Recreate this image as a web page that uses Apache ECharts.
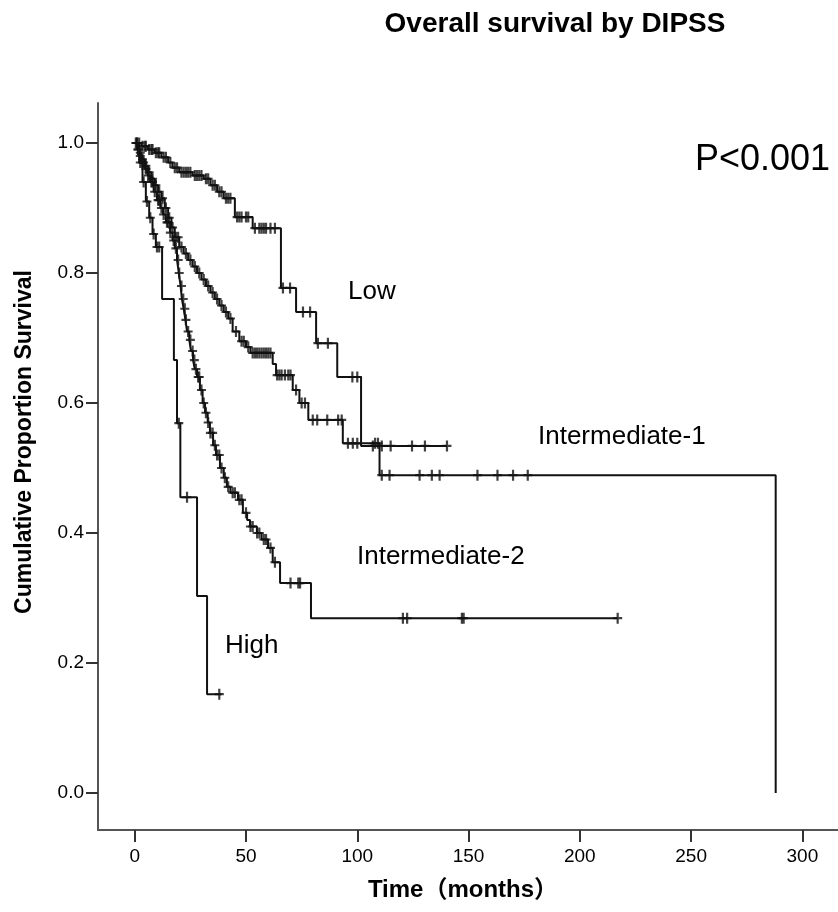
<!DOCTYPE html>
<html>
<head>
<meta charset="utf-8">
<script src="https://cdn.jsdelivr.net/npm/echarts@6/dist/echarts.min.js"></script>
<style>
html,body{margin:0;padding:0;background:#fff;}
#chart{width:838px;height:912px;}
</style>
</head>
<body>
<div id="chart"></div>
<script>
// ---- Data (months, cumulative survival) ----
var xTicks = [0, 50, 100, 150, 200, 250, 300];
var yTicks = [0.0, 0.2, 0.4, 0.6, 0.8, 1.0];

var lowTimes = [0, 3, 6, 9, 12, 15, 17, 20, 26, 31, 34, 37, 40, 45, 53, 65.7, 72.5, 81.5, 91, 101.7];
var lowSurv  = [1.0, 0.995, 0.99, 0.985, 0.978, 0.97, 0.962, 0.955, 0.95, 0.945, 0.935, 0.925, 0.915, 0.886, 0.869, 0.777, 0.74, 0.692, 0.64, 0.534];
var lowEnd = 140.3;
var lowCensor = [1, 2, 3.5, 4.5, 5, 6.5, 7.5, 8, 9.5, 10.5, 11, 13, 14, 16, 18, 19, 21, 22, 23, 24, 25, 27, 28, 29, 30, 32, 33, 35, 36, 38, 39, 41, 42, 43, 46, 47, 48, 50, 51, 54, 56, 57, 58, 59, 61, 63, 66.6, 69.8, 75.6, 78.8, 82.3, 86.8, 97.8, 100, 107, 111, 115, 124.6, 130.4, 140.3];

var int1Times = [0, 1, 2, 3, 4.6, 6, 7.5, 9, 10.5, 12, 13.5, 15, 16.5, 18, 20, 22, 24, 26, 28, 30, 32, 34, 36, 38, 40, 42, 44, 47, 50, 52, 62, 63.5, 71, 74, 78, 93.5, 110, 288];
var int1Surv  = [1.0, 0.99, 0.985, 0.975, 0.965, 0.955, 0.945, 0.935, 0.925, 0.915, 0.9, 0.885, 0.87, 0.855, 0.84, 0.83, 0.82, 0.81, 0.8, 0.79, 0.78, 0.77, 0.76, 0.75, 0.74, 0.73, 0.71, 0.695, 0.686, 0.677, 0.66, 0.643, 0.62, 0.6, 0.574, 0.538, 0.489, 0.0];
var int1End = 288;
var int1Censor = [1.5, 2.5, 3.5, 5, 6.5, 8, 9.5, 11, 12.5, 14, 15.5, 17, 18.5, 19.5, 21, 23, 25, 27, 29, 31, 33, 35, 37, 39, 41, 43, 45.5, 48, 49, 51, 53, 54, 55, 56, 57, 58, 59, 60, 61, 64, 65, 66, 67.5, 69, 70, 72.5, 75, 76.5, 80, 82, 86.5, 91.4, 93, 95.8, 98, 100, 108, 109.3, 111, 114.5, 128, 133.5, 137, 154, 163, 170, 176.6];

var int2Times = [0, 1, 2, 3, 4.6, 5.8, 6.9, 8.5, 10, 11.5, 12.7, 14, 15.9, 17, 18, 19, 19.8, 20.6, 21.2, 22, 22.8, 23.5, 24.5, 25.3, 26.2, 27, 28, 29.3, 30.5, 31.6, 32.8, 33.8, 35.2, 36.5, 38.3, 40, 41.4, 43, 46.4, 48.6, 50.5, 51.8, 54.9, 57, 59.9, 62, 65.3, 79.2];
var int2Surv  = [1.0, 0.99, 0.98, 0.97, 0.96, 0.95, 0.94, 0.925, 0.912, 0.9, 0.89, 0.878, 0.862, 0.85, 0.838, 0.82, 0.8, 0.78, 0.76, 0.745, 0.728, 0.71, 0.697, 0.68, 0.666, 0.652, 0.64, 0.62, 0.6, 0.585, 0.57, 0.554, 0.535, 0.52, 0.5, 0.485, 0.471, 0.462, 0.451, 0.431, 0.42, 0.41, 0.4, 0.39, 0.377, 0.355, 0.323, 0.269];
var int2End = 217;
var int2Censor = [0.5, 1.5, 2.5, 3.5, 4, 5, 6, 7.5, 8, 9, 10.5, 11, 12, 13, 14.5, 15, 16, 17.5, 18.5, 19.5, 20, 21, 21.8, 22.5, 23, 24, 25, 26, 26.8, 27.5, 28.5, 29, 30, 31, 32, 33, 34, 35, 36, 37, 38, 39, 40.5, 42, 44, 45, 47, 48, 50, 52, 53, 55, 56, 58, 59, 61, 63, 70, 73.5, 74.3, 120.5, 122.4, 147, 147.8, 217];

var highTimes = [0, 2, 3.5, 5, 6.5, 8, 9.5, 12.3, 17.6, 19, 20.5, 28, 32.5];
var highSurv  = [1.0, 0.97, 0.94, 0.91, 0.885, 0.86, 0.84, 0.76, 0.666, 0.569, 0.455, 0.303, 0.152];
var highEnd = 39;
var highCensor = [1, 2.5, 4, 5.5, 7, 8.5, 10, 11, 19.8, 23.5, 38];

// ---- helpers ----
function stepLine(times, surv, end) {
  var d = [];
  for (var i = 0; i < times.length; i++) d.push([times[i], surv[i]]);
  if (end > times[times.length - 1]) d.push([end, surv[surv.length - 1]]);
  return d;
}
function survAt(times, surv, t) {
  var v = surv[0];
  for (var i = 0; i < times.length; i++) { if (times[i] <= t) v = surv[i]; }
  return v;
}
function censorPts(times, surv, cens) {
  return cens.map(function (t) { return [t, survAt(times, surv, t)]; });
}

var groups = [
  {t: lowTimes, s: lowSurv, e: lowEnd, c: lowCensor},
  {t: int1Times, s: int1Surv, e: int1End, c: int1Censor},
  {t: int2Times, s: int2Surv, e: int2End, c: int2Censor},
  {t: highTimes, s: highSurv, e: highEnd, c: highCensor}
];

var plus = 'path://M3.4,0 H5.6 V4.4 H9 V6.6 H5.6 V11 H3.4 V6.6 H0 V4.4 H3.4 Z';
var series = [];
groups.forEach(function (g) {
  series.push({
    type: 'line', step: 'end', data: stepLine(g.t, g.s, g.e),
    showSymbol: false, symbol: 'none',
    lineStyle: {color: '#111', width: 2}, z: 3
  });
  series.push({
    type: 'scatter', data: censorPts(g.t, g.s, g.c),
    symbol: plus, symbolSize: [9, 11],
    itemStyle: {color: '#111'}, z: 4
  });
});

var chart = echarts.init(document.getElementById('chart'), null, {renderer: 'canvas'});
chart.setOption({
  animation: false,
  backgroundColor: '#ffffff',
  grid: {left: 98, top: 103, width: 740, height: 727, containLabel: false},
  xAxis: {
    type: 'value', min: -16.5, max: 316,
    splitLine: {show: false},
    axisLine: {show: true, onZero: false, lineStyle: {color: '#555', width: 2}},
    axisTick: {show: true, length: 12, customValues: xTicks, lineStyle: {color: '#333', width: 2}},
    axisLabel: {customValues: xTicks, margin: 17, fontFamily: 'Liberation Sans', fontSize: 19, color: '#000'}
  },
  yAxis: {
    type: 'value', min: -0.0569, max: 1.0615,
    splitLine: {show: false},
    axisLine: {show: true, onZero: false, lineStyle: {color: '#555', width: 2}},
    axisTick: {show: true, length: 12, customValues: yTicks, lineStyle: {color: '#333', width: 2}},
    axisLabel: {customValues: yTicks, margin: 14, fontFamily: 'Liberation Sans', fontSize: 19, color: '#000',
      formatter: function (v) { return v.toFixed(1); }}
  },
  series: series,
  graphic: [
    {type: 'text', x: 555, y: 24, style: {text: 'Overall survival by DIPSS', align: 'center', verticalAlign: 'middle', font: 'bold 28px "Liberation Sans", Arial, sans-serif', fill: '#000'}},
    {type: 'text', x: 25, y: 442, rotation: Math.PI / 2, style: {text: 'Cumulative Proportion Survival', align: 'center', verticalAlign: 'middle', font: 'bold 23px "Liberation Sans", Arial, sans-serif', fill: '#000'}},
    {type: 'text', x: 463, y: 890, style: {text: 'Time（months）', align: 'center', verticalAlign: 'middle', font: 'bold 24px "Liberation Sans", "Noto Sans CJK SC", sans-serif', fill: '#000'}},
    {type: 'text', x: 830, y: 160, style: {text: 'P<0.001', align: 'right', verticalAlign: 'middle', font: '36px "Liberation Sans", Arial, sans-serif', fill: '#000'}},
    {type: 'text', x: 348, y: 292, style: {text: 'Low', align: 'left', verticalAlign: 'middle', font: '26px "Liberation Sans", Arial, sans-serif', fill: '#000'}},
    {type: 'text', x: 538, y: 437, style: {text: 'Intermediate-1', align: 'left', verticalAlign: 'middle', font: '26px "Liberation Sans", Arial, sans-serif', fill: '#000'}},
    {type: 'text', x: 357, y: 557, style: {text: 'Intermediate-2', align: 'left', verticalAlign: 'middle', font: '26px "Liberation Sans", Arial, sans-serif', fill: '#000'}},
    {type: 'text', x: 225, y: 646, style: {text: 'High', align: 'left', verticalAlign: 'middle', font: '26px "Liberation Sans", Arial, sans-serif', fill: '#000'}}
  ]
});
</script>
</body>
</html>
